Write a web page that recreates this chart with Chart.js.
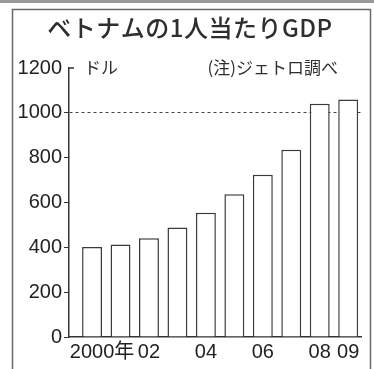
<!DOCTYPE html>
<html>
<head>
<meta charset="utf-8">
<script src="https://cdn.jsdelivr.net/npm/chart.js@4.4.0/dist/chart.umd.min.js"></script>
<style>
  html, body { margin: 0; padding: 0; background: #fff; }
  #wrap { width: 374px; height: 369px; position: relative; }
</style>
</head>
<body>
<div id="wrap"><canvas id="gdpChart" width="374" height="369"></canvas></div>
<script>
const years = [2000, 2001, 2002, 2003, 2004, 2005, 2006, 2007, 2008, 2009];
const gdpPerCapita = [402, 413, 440, 489, 554, 637, 724, 835, 1040, 1060];
const xTickYears = [2000, 2002, 2004, 2006, 2008, 2009];
const yTickValues = [0, 200, 400, 600, 800, 1000, 1200];

const chartTitle = 'ベトナムの1人当たりGDP';
const unitLabel = 'ドル';
const sourceNote = '(注)ジェトロ調べ';

const numFont = "Arial, 'Liberation Sans', 'Noto Sans CJK JP', sans-serif";
const jpFont = "'Noto Sans CJK JP', sans-serif";

// frame, heading and notes drawn around the chart
const decor = {
    id: 'decor',
    beforeDraw(chart) {
        const ctx = chart.ctx;
        ctx.save();
        ctx.fillStyle = '#fff';
        ctx.fillRect(0, 0, chart.width, chart.height);
        ctx.fillStyle = '#9a9a9a';
        ctx.fillRect(0, 0, chart.width, 3);
        ctx.strokeStyle = '#6a6a6a';
        ctx.lineWidth = 1.5;
        ctx.strokeRect(12.5, 9.5, 358, 380);
        ctx.restore();
    },
    afterDraw(chart) {
        const ctx = chart.ctx;
        const y = chart.scales.y;
        ctx.save();
        ctx.fillStyle = '#2e2e2e';
        ctx.textBaseline = 'middle';
        ctx.textAlign = 'center';
        ctx.font = '500 24px ' + jpFont;
        ctx.letterSpacing = '0.5px';
        ctx.fillText(chartTitle, 190, 28);
        ctx.letterSpacing = '0px';
        ctx.font = '17px ' + jpFont;
        ctx.textAlign = 'left';
        ctx.fillText(unitLabel, 84, 68);
        ctx.textAlign = 'right';
        ctx.fillText(sourceNote, 338, 68);
        // small cap at the top of the axis
        const top = y.getPixelForValue(1200);
        ctx.strokeStyle = '#333';
        ctx.lineWidth = 1.5;
        ctx.beginPath();
        ctx.moveTo(y.right, top);
        ctx.lineTo(y.right + 5, top);
        ctx.stroke();
        ctx.restore();
    }
};

new Chart(document.getElementById('gdpChart'), {
    type: 'bar',
    data: {
        labels: years,
        datasets: [{
            data: years.map((yr, i) => ({ x: yr, y: gdpPerCapita[i] })),
            backgroundColor: '#fff',
            borderColor: '#3a3a3a',
            borderWidth: 1.5,
            borderSkipped: 'start',
            barPercentage: 0.7,
            categoryPercentage: 1
        }]
    },
    options: {
        responsive: false,
        animation: false,
        layout: { padding: { left: 0, top: 68, right: 13, bottom: 0 } },
        plugins: {
            legend: { display: false },
            tooltip: { enabled: false }
        },
        scales: {
            x: {
                type: 'linear',
                min: 1999.19,
                max: 2009.45,
                offset: false,
                afterBuildTicks: s => { s.ticks = xTickYears.map(v => ({ value: v })); },
                afterFit: s => { s.height = 32; },
                grid: { display: false, drawTicks: false },
                border: { display: true, color: '#333', width: 1.5 },
                ticks: {
                    autoSkip: false,
                    maxRotation: 0,
                    minRotation: 0,
                    padding: 3,
                    color: '#222',
                    font: { family: numFont, size: 20 },
                    callback: v => v === 2000 ? '\u30002000年' : String(v).slice(2)
                }
            },
            y: {
                min: 0,
                max: 1200,
                afterBuildTicks: s => { s.ticks = yTickValues.map(v => ({ value: v })); },
                afterFit: s => { s.width = 69; },
                grid: {
                    color: c => c.tick && c.tick.value === 1000 ? '#444' : 'rgba(0,0,0,0)',
                    tickColor: c => c.tick && c.tick.value === 1200 ? 'rgba(0,0,0,0)' : '#333',
                    tickLength: 5,
                    lineWidth: 1
                },
                border: { display: true, color: '#333', width: 1.5, dash: [3, 3] },
                ticks: {
                    padding: 2,
                    color: '#222',
                    font: { family: numFont, size: 20 },
                    callback: v => String(v)
                }
            }
        }
    },
    plugins: [decor]
});
</script>
</body>
</html>
